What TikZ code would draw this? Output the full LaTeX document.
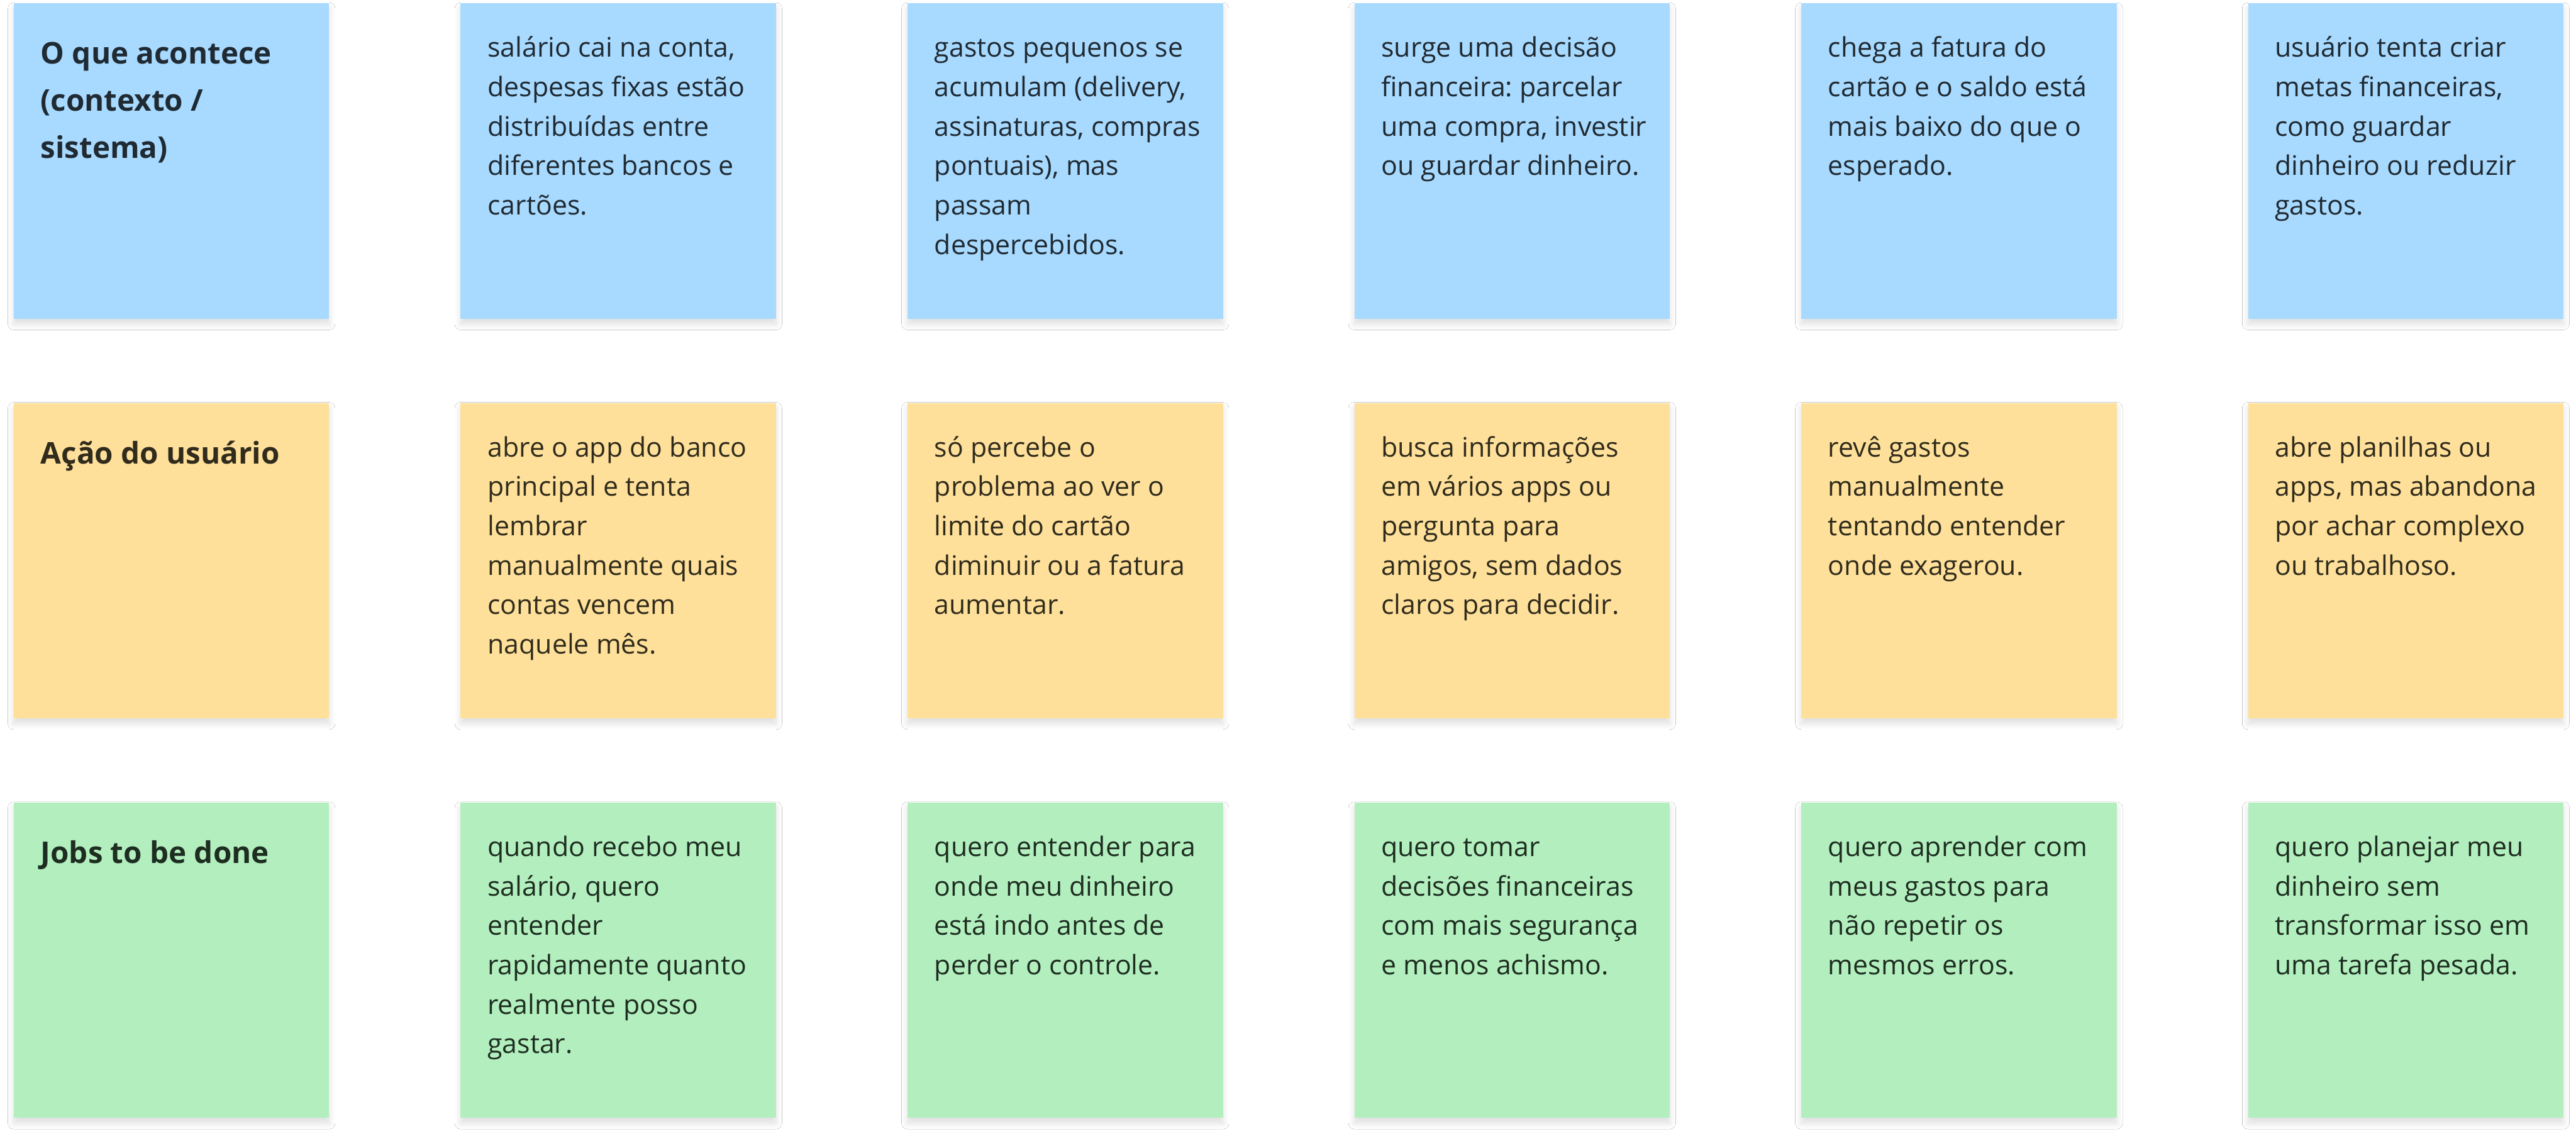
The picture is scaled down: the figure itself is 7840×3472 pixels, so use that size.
\documentclass[tikz,border=0pt]{standalone}
\usepackage{fontspec}
\setmainfont{Open Sans}
\frenchspacing
\usetikzlibrary{shadows.blur,calc}
\definecolor{bluefill}{HTML}{A8D9FE}
\definecolor{yellowfill}{HTML}{FEE09A}
\definecolor{greenfill}{HTML}{B3EFBE}
\definecolor{blueink}{HTML}{1F2A32}
\definecolor{yellowink}{HTML}{302B1C}
\definecolor{greenink}{HTML}{1E2D21}
\tikzset{
  sticky/.style={rectangle, draw=none, minimum width=96pt, minimum height=96pt,
    inner sep=0pt, anchor=north west,
    blur shadow={shadow xshift=0pt, shadow yshift=-1.6pt, shadow blur radius=1.8pt, shadow opacity=13, shadow blur steps=12}},
  bluesticky/.style={sticky, fill=bluefill},
  yellowsticky/.style={sticky, fill=yellowfill},
  greensticky/.style={sticky, fill=greenfill},
  bodytext/.style={anchor=base west, inner sep=0pt, font=\fontsize{8.2pt}{12pt}\selectfont},
  titletext/.style={anchor=base west, inner sep=0pt, yshift=-2.1pt, font=\fontsize{9.1pt}{14.35pt}\selectfont\bfseries},
}
\newcommand\stk[6]{%
  \node[#4sticky] (#1) at (#2,#3) {};
  \node[#5, text=#4ink] (#1-t) at ($(#1.north west)+(82,166)$) {\begin{tabular}[t]{@{}l@{}}#6\end{tabular}};
}
\begin{document}
\begin{tikzpicture}[x=0.1pt,y=-0.1pt]
\fill[white] (0,0) rectangle (7840,3472);
\useasboundingbox (0,0) rectangle (7840,3472);
% row 1
\stk{a1}{40}{8}{blue}{titletext}{O que acontece\\(contexto /\\sistema)}
\stk{a2}{1400}{8}{blue}{bodytext}{salário cai na conta,\\despesas fixas estão\\distribuídas entre\\diferentes bancos e\\cartões.}
\stk{a3}{2760}{8}{blue}{bodytext}{gastos pequenos se\\acumulam (delivery,\\assinaturas, compras\\pontuais), mas\\passam\\despercebidos.}
\stk{a4}{4120}{8}{blue}{bodytext}{surge uma decisão\\financeira: parcelar\\uma compra, investir\\ou guardar dinheiro.}
\stk{a5}{5480}{8}{blue}{bodytext}{chega a fatura do\\cartão e o saldo está\\mais baixo do que o\\esperado.}
\stk{a6}{6840}{8}{blue}{bodytext}{usuário tenta criar\\metas financeiras,\\como guardar\\dinheiro ou reduzir\\gastos.}
% row 2
\stk{b1}{40}{1224}{yellow}{titletext}{Ação do usuário}
\stk{b2}{1400}{1224}{yellow}{bodytext}{abre o app do banco\\principal e tenta\\lembrar\\manualmente quais\\contas vencem\\naquele mês.}
\stk{b3}{2760}{1224}{yellow}{bodytext}{só percebe o\\problema ao ver o\\limite do cartão\\diminuir ou a fatura\\aumentar.}
\stk{b4}{4120}{1224}{yellow}{bodytext}{busca informações\\em vários apps ou\\pergunta para\\amigos, sem dados\\claros para decidir.}
\stk{b5}{5480}{1224}{yellow}{bodytext}{revê gastos\\manualmente\\tentando entender\\onde exagerou.}
\stk{b6}{6840}{1224}{yellow}{bodytext}{abre planilhas ou\\apps, mas abandona\\por achar complexo\\ou trabalhoso.}
% row 3
\stk{c1}{40}{2440}{green}{titletext}{Jobs to be done}
\stk{c2}{1400}{2440}{green}{bodytext}{quando recebo meu\\salário, quero\\entender\\rapidamente quanto\\realmente posso\\gastar.}
\stk{c3}{2760}{2440}{green}{bodytext}{quero entender para\\onde meu dinheiro\\está indo antes de\\perder o controle.}
\stk{c4}{4120}{2440}{green}{bodytext}{quero tomar\\decisões financeiras\\com mais segurança\\e menos achismo.}
\stk{c5}{5480}{2440}{green}{bodytext}{quero aprender com\\meus gastos para\\não repetir os\\mesmos erros.}
\stk{c6}{6840}{2440}{green}{bodytext}{quero planejar meu\\dinheiro sem\\transformar isso em\\uma tarefa pesada.}
\end{tikzpicture}
\end{document}
